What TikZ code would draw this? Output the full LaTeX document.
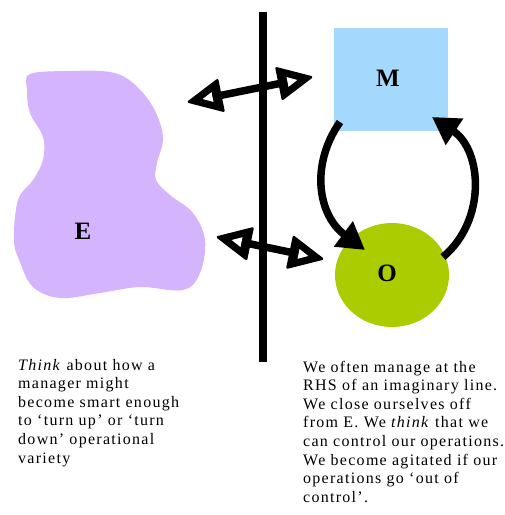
\documentclass[tikz,border=0pt]{standalone}
\usepackage{fontspec}
\setmainfont{Liberation Serif}
\usetikzlibrary{arrows.meta,shapes.geometric}
\definecolor{lav}{HTML}{D4B4FC}
\definecolor{skyb}{HTML}{A4D8FC}
\definecolor{lime}{HTML}{AACC00}
\tikzset{
  lbl/.style={font=\fontsize{25}{25}\selectfont\bfseries, inner sep=0pt},
  shaft/.style={line width=7.5pt, shorten <=22pt, shorten >=22pt},
  headout/.style={fill=black, draw=black, line width=2.5pt, line join=round},
  headin/.style={fill=white},
  looparrow/.style={line width=7.5pt, -{Triangle[length=27pt,width=30pt]}},
  bodytext/.style={anchor=base west, inner sep=0pt, font=\fontsize{16}{18.6}\selectfont\addfontfeature{LetterSpace=8}}
}
\newcommand{\openhead}[2]{%
  \begin{scope}[shift={(#1)}, rotate=#2]
    \filldraw[headout] (-1,0) -- (-33,15.5) -- (-33,-15.5) -- cycle;
    \fill[headin] (-15,0) -- (-25,5) -- (-25,-5) -- cycle;
  \end{scope}}
\begin{document}
\begin{tikzpicture}[x=1pt,y=-1pt]
\useasboundingbox (0,0) rectangle (505,515);
% environment blob
\fill[lav] plot[smooth cycle, tension=0.6] coordinates {
 (30,74) (70,71) (110,72) (133,83) (153,107) (163,137) (157,163) (156,180)
 (170,195) (193,213) (205,240) (200,273) (183,290) (140,287) (100,293)
 (60,298) (33,287) (20,262) (14,240) (18,200) (33,180) (43,160) (43,137)
 (30,113) (27,90)};
\node[lbl] (E) at (83,231) {E};
% vertical line
\coordinate (ltop) at (263,12);
\coordinate (lbot) at (263,362);
\draw[line width=8pt] (ltop) -- (lbot);
% M and O
\node[fill=skyb, minimum width=114pt, minimum height=103pt, inner sep=0pt] (M) at (391,79.5) {};
\node[lbl] (Mt) at (388,78) {M};
\node[fill=lime, ellipse, minimum width=114pt, minimum height=104pt, inner sep=0pt] (O) at (392,275) {};
\node[lbl] (Ot) at (387,273) {O};
% double arrows
\coordinate (a1) at (188,102);
\coordinate (a2) at (312,77);
\coordinate (b1) at (217,237);
\coordinate (b2) at (323,259);
\draw[shaft] (a1) -- (a2);
\openhead{a2}{11.4}
\openhead{a1}{191.4}
\draw[shaft] (b1) -- (b2);
\openhead{b2}{-11.7}
\openhead{b1}{168.3}
% loop arrows
\coordinate (m1) at (340,122);
\coordinate (o1) at (365,250);
\coordinate (o2) at (443,257);
\coordinate (m2) at (432,117);
\draw[looparrow] (m1) .. controls (310,165) and (318,215) .. (o1);
\draw[looparrow] (o2) .. controls (487,220) and (482,150) .. (m2);
% texts
\node[bodytext] (t1) at (18,370) {\parbox[t]{220pt}{\raggedright
\textit{Think} about how a\\
manager might\\
become smart enough\\
to `turn up' or `turn\\
down' operational\\
variety}};
\node[bodytext] (t2) at (303,372) {\parbox[t]{220pt}{\raggedright
We often manage at the\\
RHS of an imaginary line.\\
We close ourselves off\\
from E. We \textit{think} that we\\
can control our operations.\\
We become agitated if our\\
operations go `out of\\
control'.}};
\end{tikzpicture}
\end{document}
